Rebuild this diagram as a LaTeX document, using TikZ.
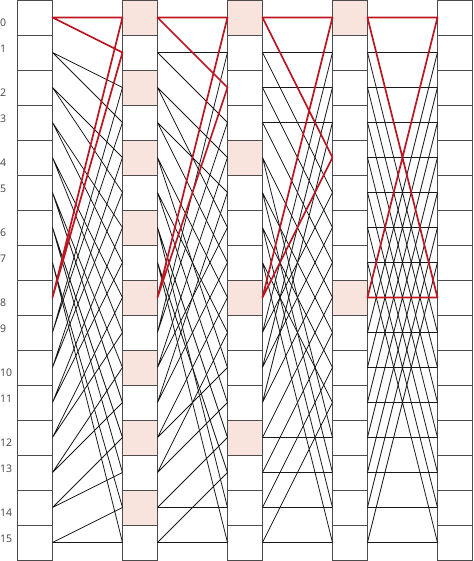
\documentclass[tikz,border=0pt]{standalone}
\usepackage{fontspec}
\setmainfont{Open Sans}
\usetikzlibrary{calc}
\definecolor{butred}{RGB}{188,22,34}
\definecolor{cellpink}{RGB}{249,227,221}

\begin{document}
\begin{tikzpicture}[x=35pt,y=-35pt,
  cell/.style={draw=black!70,line width=0.9pt,minimum width=35pt,minimum height=35pt,inner sep=0pt,outer sep=0pt},
  wire/.style={black!90,line width=0.8pt},
  hot/.style={butred,line width=1.7pt,line cap=round},
  lbl/.style={anchor=west,inner sep=0pt,font=\fontsize{10.5}{12}\selectfont,text=black!75}]
  \useasboundingbox (0,0) rectangle (13.543,16.03);

  \foreach \c/\m in {1/2,2/4,3/8}
    \foreach \r in {0,\m,...,15}
      \fill[cellpink] (0.5+3*\c,\r) rectangle ++(1,1);

  \foreach \c in {0,...,4}
    \foreach \r in {0,...,15}
      \node[cell] (b\c-\r) at (1+3*\c,\r+0.5) {};

  \foreach \k in {0,...,15} {
    \pgfmathsetmacro\ly{\k+0.66-0.26*mod(\k,2)}
    \node[lbl] (n\k) at (0,\ly) {\k};
  }

  \foreach \s/\d in {1/1,2/2,3/4,4/8} {
    \pgfmathtruncatemacro\p{\s-1}
    \foreach \i in {1,...,7} {
      \pgfmathtruncatemacro\r{mod(\i,\d)+2*\d*floor(\i/\d)}
      \pgfmathtruncatemacro\q{\r+\d}
      \pgfmathtruncatemacro\j{\i+8}
      \draw[wire] (b\p-\i.east) -- (b\s-\r.west) (b\p-\i.east) -- (b\s-\q.west)
                  (b\p-\j.east) -- (b\s-\r.west) (b\p-\j.east) -- (b\s-\q.west);
    }
    \draw[hot] (b\p-0.east) -- (b\s-0.west) (b\p-0.east) -- (b\s-\d.west)
               (b\p-8.east) -- (b\s-0.west) (b\p-8.east) -- (b\s-\d.west);
  }
\end{tikzpicture}
\end{document}
